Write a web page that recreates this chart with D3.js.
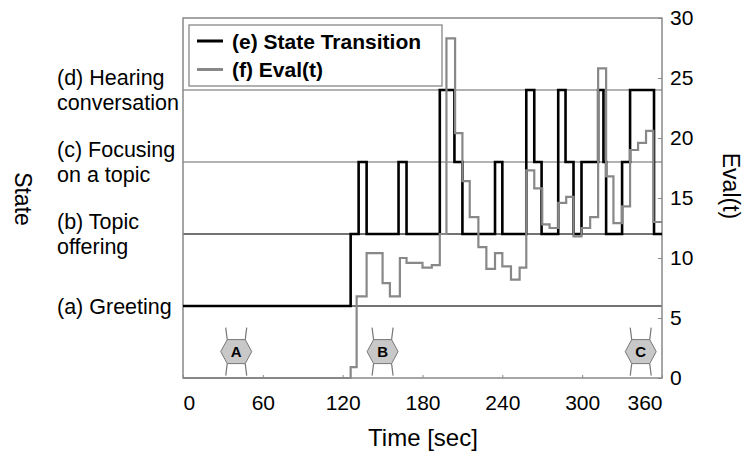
<!DOCTYPE html>
<html>
<head>
<meta charset="utf-8">
<script src="https://cdn.jsdelivr.net/npm/d3@7"></script>
<style>
  body { margin: 0; background: #fff; }
  svg { display: block; }
  text { font-family: Arial, 'Liberation Sans', sans-serif; fill: #000; }
</style>
</head>
<body>
<div id="chart"></div>
<script>
// data
var stateNames = [["(a) Greeting"], ["(b) Topic", "offering"], ["(c) Focusing", "on a topic"], ["(d) Hearing", "conversation"]];
var stateLevel = [6, 12, 18, 24]; // where each state sits on the Eval(t) axis

// (e) state transition: time each step starts, state index
var stateTime = [0, 126, 132, 138, 162, 168, 193, 204, 210, 234.5, 240, 258, 264, 269.5, 282, 287.5, 293.5, 299.5, 312, 316, 318, 330, 336, 354];
var stateIdx  = [0, 1, 2, 1, 2, 1, 3, 2, 1, 2, 1, 3, 2, 1, 3, 2, 1, 2, 3, 2, 1, 2, 3, 1];

// (f) Eval(t): time each step starts, value
var evalTime = [0, 126, 130.5, 138, 150, 155.5, 163, 168, 180, 187, 193, 198, 204.5, 210, 215.5, 222, 228, 234.5, 240, 246.5, 253, 258, 264, 270, 275.5, 282, 288, 293.5, 299.5, 306, 312, 318, 323.5, 330, 336, 342, 348, 353.5];
var evalVal  = [0, 0.9, 6.8, 10.4, 7.9, 6.8, 10.0, 9.6, 9.2, 9.4, 12.0, 28.3, 20.4, 16.4, 13.4, 10.9, 9.1, 10.4, 9.3, 8.2, 9.2, 17.3, 15.8, 12.8, 12.5, 14.6, 15.1, 11.8, 12.5, 13.4, 25.8, 16.8, 12.9, 14.3, 19.0, 19.6, 20.6, 13.0];
var endTime = 360;

var timeTicks = [0, 60, 120, 180, 240, 300, 360];
var evalTicks = [0, 5, 10, 15, 20, 25, 30];

// scene markers A, B, C
var markerLabels = ["A", "B", "C"];
var markerTimes = [40, 150, 344];
var markerEval = 2.2;

//chart set ups
var svgWidth = 746;
var svgHeight = 453;
var margin = {top: 18, right: 84, bottom: 75, left: 183};
var chartWidth = svgWidth - margin.left - margin.right;
var chartHeight = svgHeight - margin.top - margin.bottom;

var svg = d3.select('#chart')
            .append('svg')
            .attr('width', svgWidth)
            .attr('height', svgHeight);

var chartGroup = svg.append('g')
                    .attr('transform', `translate(${margin.left},${margin.top})`);

var x = d3.scaleLinear().domain([0, 360]).range([0, chartWidth]);
var y = d3.scaleLinear().domain([0, 30]).range([chartHeight, 0]);

// state level lines
chartGroup.selectAll('line.level')
    .data(stateLevel)
    .enter()
    .append('line')
    .attr('class', 'level')
    .attr('x1', 0)
    .attr('x2', chartWidth)
    .attr('y1', d => y(d))
    .attr('y2', d => y(d))
    .attr('stroke', d => d <= 12 ? '#444' : '#999')
    .attr('stroke-width', 1.3);

// frame
chartGroup.append('rect')
    .attr('x', 0).attr('y', 0)
    .attr('width', chartWidth).attr('height', chartHeight)
    .attr('fill', 'none')
    .attr('stroke', '#888')
    .attr('stroke-width', 1.5);

// axes
var bottomAxis = d3.axisBottom(x).tickValues(timeTicks).tickSize(-3).tickPadding(17);
var xAxis = chartGroup.append('g')
    .attr('transform', `translate(0,${chartHeight})`)
    .call(bottomAxis);
xAxis.select('.domain').remove();
xAxis.selectAll('line').attr('stroke', '#888');
xAxis.selectAll('text')
    .attr('font-size', 21)
    .attr('font-family', "Arial, 'Liberation Sans', sans-serif")
    .attr('text-anchor', d => d === 0 ? 'start' : (d === 360 ? 'end' : 'middle'));

var rightAxis = d3.axisRight(y).tickValues(evalTicks).tickSize(-4).tickPadding(8);
var yAxis = chartGroup.append('g')
    .attr('transform', `translate(${chartWidth},0)`)
    .call(rightAxis);
yAxis.select('.domain').remove();
yAxis.selectAll('line').attr('stroke', '#888');
yAxis.selectAll('text')
    .attr('font-size', 21)
    .attr('font-family', "Arial, 'Liberation Sans', sans-serif");

// state labels on the left
var stateLabels = chartGroup.selectAll('text.state')
    .data(stateNames)
    .enter()
    .append('text')
    .attr('class', 'state')
    .attr('font-size', 21.5)
    .attr('x', -126)
    .attr('y', (d, i) => y(stateLevel[i]));
stateLabels.selectAll('tspan')
    .data(d => d.map((t, j) => ({t: t, j: j, n: d.length})))
    .enter()
    .append('tspan')
    .attr('x', -126)
    .attr('dy', d => d.j === 0 ? ((d.n === 1 ? 0.35 : -0.24) + 'em') : '1.18em')
    .text(d => d.t);

// axis titles
svg.append('text')
    .attr('transform', 'translate(23,199) rotate(90)')
    .attr('text-anchor', 'middle')
    .attr('dy', '0.35em')
    .attr('font-size', 23)
    .text('State');
svg.append('text')
    .attr('transform', 'translate(731,186) rotate(90)')
    .attr('text-anchor', 'middle')
    .attr('dy', '0.35em')
    .attr('font-size', 23)
    .text('Eval(t)');
svg.append('text')
    .attr('x', margin.left + chartWidth / 2 + 0.5)
    .attr('y', 446)
    .attr('text-anchor', 'middle')
    .attr('font-size', 24)
    .text('Time [sec]');

// step lines
var statePts = stateTime.map((t, i) => [t, stateLevel[stateIdx[i]]]);
statePts.push([endTime, stateLevel[stateIdx[stateIdx.length - 1]]]);
var evalPts = evalTime.map((t, i) => [t, evalVal[i]]);
evalPts.push([endTime, evalVal[evalVal.length - 1]]);

var stepLine = d3.line()
    .x(d => x(d[0]))
    .y(d => y(d[1]))
    .curve(d3.curveStepAfter);

chartGroup.append('path')
    .datum(statePts)
    .attr('d', stepLine)
    .attr('fill', 'none')
    .attr('stroke', '#000')
    .attr('stroke-width', 2.6);

chartGroup.append('path')
    .datum(evalPts)
    .attr('d', stepLine)
    .attr('fill', 'none')
    .attr('stroke', '#888')
    .attr('stroke-width', 2.2);

// markers
var markerGroups = chartGroup.selectAll('g.marker')
    .data(markerLabels)
    .enter()
    .append('g')
    .attr('class', 'marker')
    .attr('transform', (d, i) => `translate(${x(markerTimes[i])},${y(markerEval)})`);
markerGroups.append('path')
    .attr('d', 'M-15.5,0 L-9,-12 L9,-12 L15.5,0 L9,12 L-9,12 Z')
    .attr('fill', '#c8c8c8')
    .attr('stroke', '#777')
    .attr('stroke-width', 1);
markerGroups.append('path')
    .attr('d', 'M-9,-12 L-10.5,-24 M9,-12 L10.5,-24 M-9,12 L-10.5,24 M9,12 L10.5,24')
    .attr('fill', 'none')
    .attr('stroke', '#777')
    .attr('stroke-width', 1.2);
markerGroups.append('text')
    .attr('text-anchor', 'middle')
    .attr('dy', '0.36em')
    .attr('font-size', 15)
    .attr('font-weight', 'bold')
    .text(d => d);

// legend
var legend = svg.append('g');
legend.append('rect')
    .attr('x', 189).attr('y', 25)
    .attr('width', 253).attr('height', 61)
    .attr('fill', '#fff')
    .attr('stroke', '#888')
    .attr('stroke-width', 1.3);
var legendItems = [
    {label: '(e) State Transition', color: '#000', w: 3},
    {label: '(f) Eval(t)', color: '#888', w: 3}
];
legendItems.forEach((item, i) => {
    var ly = 41 + i * 28.5;
    legend.append('line')
        .attr('x1', 197).attr('x2', 223)
        .attr('y1', ly).attr('y2', ly)
        .attr('stroke', item.color)
        .attr('stroke-width', item.w);
    legend.append('text')
        .attr('x', 232)
        .attr('y', ly)
        .attr('dy', '0.36em')
        .attr('font-size', 21)
        .attr('font-weight', 'bold')
        .text(item.label);
});
</script>
</body>
</html>
